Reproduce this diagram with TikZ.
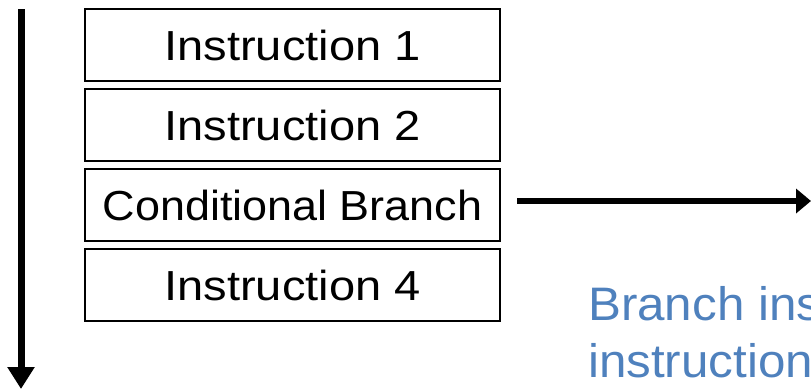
\documentclass[tikz,border=0pt]{standalone}
\usepackage{fontspec}
\setmainfont{Liberation Sans}
\usetikzlibrary{arrows.meta}
\definecolor{noteblue}{HTML}{4F81BD}
% widen a label horizontally
\newcommand{\widelabel}[2]{\scalebox{#1}[1]{#2}}
\begin{document}
\begin{tikzpicture}[x=1pt,y=-1pt,
  instr/.style={draw=black,line width=2.2pt,minimum width=415pt,minimum height=72pt,
    inner sep=0pt,font=\fontsize{42}{48}\selectfont},
  flow/.style={line width=7pt,-{Triangle[length=22pt,width=26pt]}},
  jump/.style={line width=6pt,-{Triangle[length=15pt,width=24pt]}},
  note/.style={anchor=base west,inner sep=0pt,text=noteblue,font=\fontsize{47}{57}\selectfont}]
\useasboundingbox (0,0) rectangle (811,389);
% stacked instruction boxes
\node[instr] (i1) at (292.5,45) {\widelabel{1.12}{Instruction 1}};
\node[instr] (i2) at (292.5,125) {\widelabel{1.12}{Instruction 2}};
\node[instr] (cb) at (292.5,205) {\widelabel{1.07}{Conditional Branch}};
\node[instr] (i4) at (292.5,285) {\widelabel{1.12}{Instruction 4}};
% program order arrow
\coordinate (top) at (21,9);
\coordinate (bottom) at (21,389);
\draw[flow] (top) -- (bottom);
% branch target arrow
\coordinate (jstart) at (517,201);
\coordinate (jend) at (811,201);
\draw[jump] (jstart) -- (jend);
% annotation, running past the right edge
\begin{scope}
\clip (0,0) rectangle (811,389);
\node[note] (n1) at (588,320) {\widelabel{1.05}{Branch inst}};
\node[note] (n2) at (588,377) {\widelabel{1.05}{instruction}};
\end{scope}
\end{tikzpicture}
\end{document}
